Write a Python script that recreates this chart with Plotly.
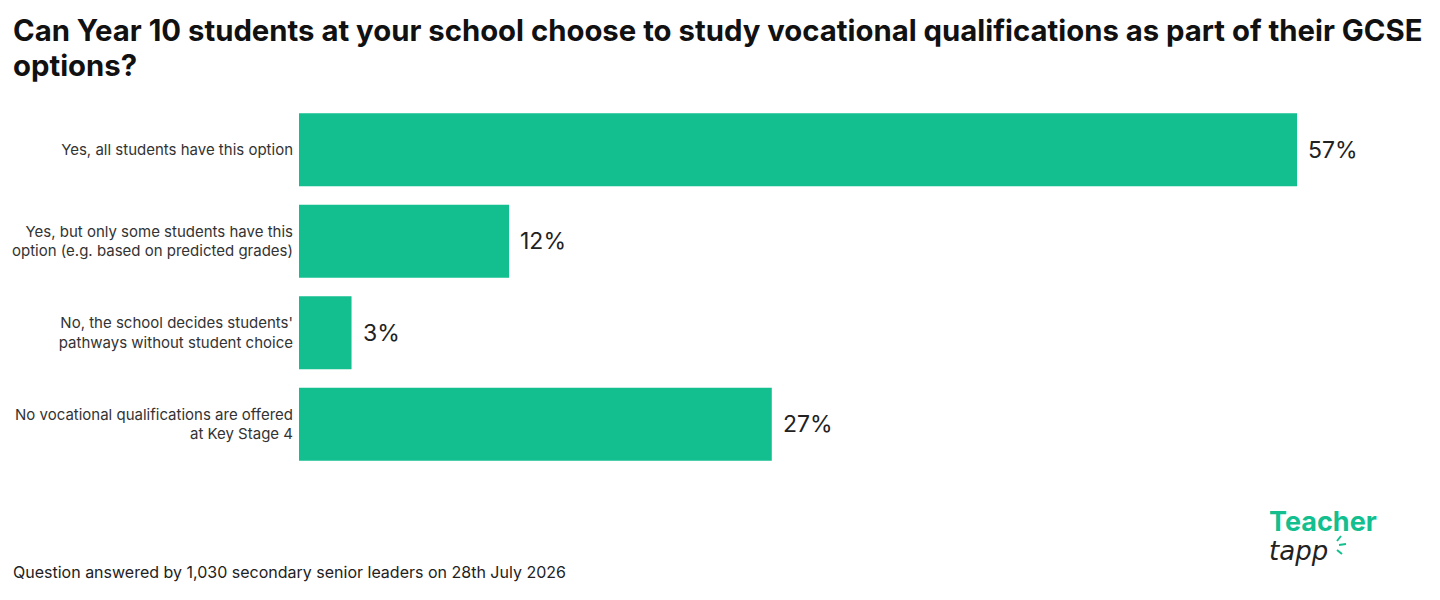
import plotly.graph_objects as go

# --- data ---
categories = [
    "Yes, all students have this option",
    "Yes, but only some students have this<br>option (e.g. based on predicted grades)",
    "No, the school decides students'<br>pathways without student choice",
    "No vocational qualifications are offered<br>at Key Stage 4",
]
values = [57, 12, 3, 27]

title_lines = [
    "Can Year 10 students at your school choose to study vocational qualifications as part of their GCSE",
    "options?",
]
footer_text = "Question answered by 1,030 secondary senior leaders on 28th July 2026"
logo_top = "Teacher"
logo_bottom = "tapp"

green = "#13BF8F"
font_family = "Inter, Roboto, sans-serif"

# page offset: the html body adds 8px around the figure
OFF = 8
ML, MR, MT, MB = 299 - OFF, 62 + OFF, 104 - OFF, 130 + OFF
W, H = 1440, 600

fig = go.Figure()
fig.add_trace(go.Bar(
    x=values,
    y=categories,
    orientation="h",
    marker=dict(color=green, line=dict(width=0)),
    hoverinfo="skip",
))

# value labels just past the bar end
for cat, val in zip(categories, values):
    fig.add_annotation(
        x=val, y=cat, xref="x", yref="y",
        text=f"{val}%", showarrow=False,
        xanchor="left", xshift=9,
        font=dict(family=font_family, size=23, color="#222222"),
    )

plot_w = W - ML - MR
plot_h = H - MT - MB
def px_x(px):
    return (px - OFF - ML) / plot_w
def px_y(py):
    return (H - MB - (py - OFF)) / plot_h

# title: big glyphs, slightly tighter line spacing (line height follows the base size)
title_text = "<br>".join(
    f"<span style='font-size:29.3px'>{line}</span>" for line in title_lines
)
fig.add_annotation(
    x=px_x(11), y=px_y(11), xref="paper", yref="paper", text=title_text,
    showarrow=False, xanchor="left", yanchor="top", align="left",
    font=dict(family=font_family, size=27, color="#111111", weight="bold"),
)

# footer
fig.add_annotation(
    text=footer_text, xref="paper", yref="paper", x=px_x(11), y=px_y(572),
    showarrow=False, xanchor="left", yanchor="middle",
    font=dict(family=font_family, size=16, color="#222222"),
)

# logo (one text block, two styled lines)
logo_text = (
    f"<span style='font-size:27px;font-weight:bold;fill:{green};font-family:Inter'>{logo_top}</span><br>"
    f"<span style='font-size:26px;font-style:italic;fill:#222222;font-family:DejaVu Sans'>{logo_bottom}</span>"
)
fig.add_annotation(
    text=logo_text, xref="paper", yref="paper", x=px_x(1267), y=px_y(535),
    showarrow=False, xanchor="left", yanchor="middle", align="left",
    font=dict(family=font_family, size=22, color="#222222"),
)

# little rays next to "tapp"
for (x0, y0, x1, y1) in [(1337, 541, 1341, 536), (1339, 545, 1346, 544), (1337, 550, 1342, 554)]:
    fig.add_shape(type="line", xref="paper", yref="paper",
                  x0=px_x(x0), y0=px_y(y0), x1=px_x(x1), y1=px_y(y1),
                  line=dict(color=green, width=2))

fig.update_layout(
    width=W, height=H,
    paper_bgcolor="white", plot_bgcolor="white",
    margin=dict(l=ML, r=MR, t=MT, b=MB, autoexpand=False),
    bargap=0.2,
    showlegend=False,
    xaxis=dict(range=[0, 61.62], visible=False, fixedrange=True),
    yaxis=dict(
        autorange="reversed", showgrid=False, zeroline=False, showline=False,
        ticks="", ticklabelstandoff=5, automargin=False,
        tickfont=dict(family=font_family, size=15, color="#333333"),
    ),
)

fig.write_html("out.html")
